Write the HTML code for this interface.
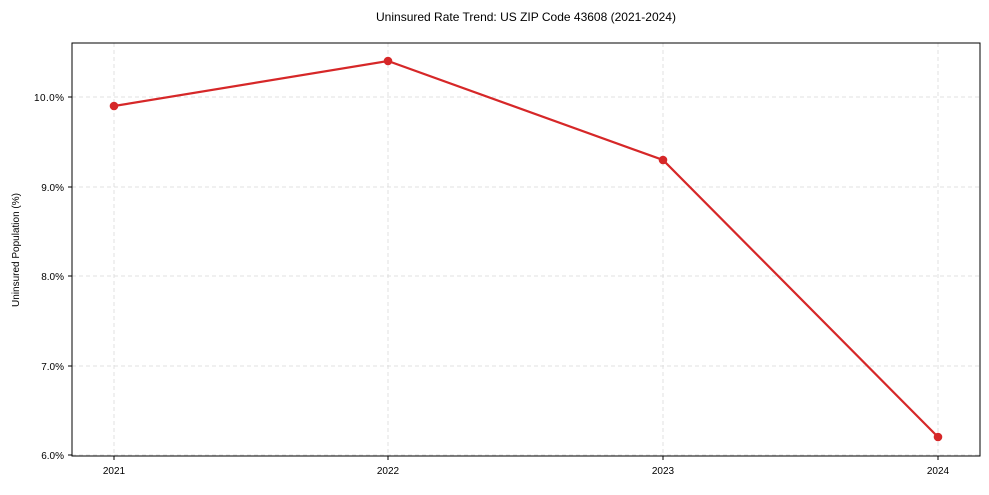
<!DOCTYPE html>
<html><head><meta charset="utf-8"><style>body{margin:0;background:#fff}</style></head><body>
<svg width="989" height="490" viewBox="0 0 989 490" xmlns="http://www.w3.org/2000/svg" font-family="Liberation Sans, sans-serif">
<rect width="989" height="490" fill="#fff"/>
<g stroke="#d9d9d9" stroke-dasharray="4,3" stroke-width="0.8">
<line x1="114" y1="43" x2="114" y2="456"/><line x1="388" y1="43" x2="388" y2="456"/><line x1="663" y1="43" x2="663" y2="456"/><line x1="938" y1="43" x2="938" y2="456"/>
<line x1="72" y1="97" x2="980" y2="97"/><line x1="72" y1="187" x2="980" y2="187"/><line x1="72" y1="276" x2="980" y2="276"/><line x1="72" y1="366" x2="980" y2="366"/><line x1="72" y1="455" x2="980" y2="455"/>
</g>
<rect x="72" y="43" width="908" height="413" fill="none" stroke="#000" stroke-width="1"/>
<g stroke="#000" stroke-width="1">
<line x1="68" y1="97" x2="72" y2="97"/><line x1="68" y1="187" x2="72" y2="187"/><line x1="68" y1="276" x2="72" y2="276"/><line x1="68" y1="366" x2="72" y2="366"/><line x1="68" y1="455" x2="72" y2="455"/>
<line x1="114" y1="456" x2="114" y2="460"/><line x1="388" y1="456" x2="388" y2="460"/><line x1="663" y1="456" x2="663" y2="460"/><line x1="938" y1="456" x2="938" y2="460"/>
</g>
<g font-size="10" fill="#000" text-anchor="end">
<text x="64" y="101" textLength="30">10.0%</text><text x="64" y="191">9.0%</text><text x="64" y="280">8.0%</text><text x="64" y="370">7.0%</text><text x="64" y="459">6.0%</text>
</g>
<g font-size="10" fill="#000" text-anchor="middle">
<text x="114" y="474">2021</text><text x="388" y="474">2022</text><text x="663" y="474">2023</text><text x="938" y="474">2024</text>
</g>
<text x="19" y="250" font-size="10" text-anchor="middle" transform="rotate(-90 19 250)">Uninsured Population (%)</text>
<text x="526" y="21" font-size="12" text-anchor="middle">Uninsured Rate Trend: US ZIP Code 43608 (2021-2024)</text>
<polyline points="114,106 388,61 663,160 938,437" fill="none" stroke="#d62728" stroke-width="2.2"/>
<g fill="#d62728"><circle cx="114" cy="106" r="4.3"/><circle cx="388" cy="61" r="4.3"/><circle cx="663" cy="160" r="4.3"/><circle cx="938" cy="437" r="4.3"/></g>
</svg>
</body></html>
